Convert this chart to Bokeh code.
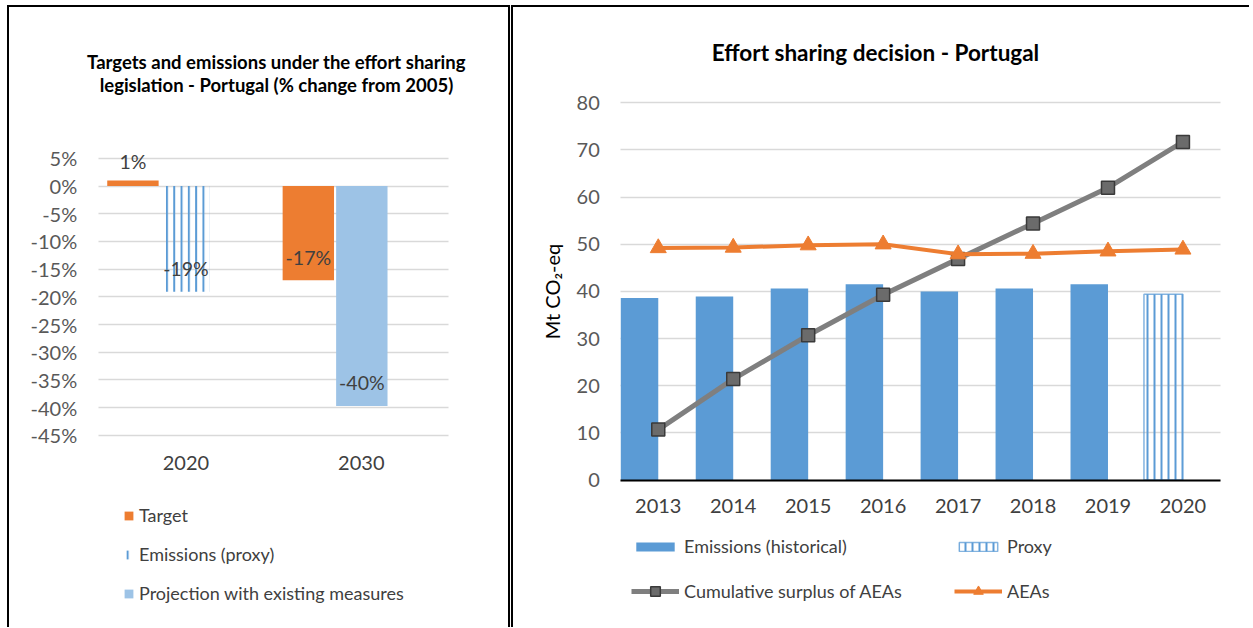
from bokeh.plotting import figure
from bokeh.models import (Range1d, FixedTicker, NumeralTickFormatter, Grid,
                          Legend, LegendItem, Label, ColumnDataSource)
from bokeh.transform import dodge
from bokeh.layouts import row
from bokeh.embed import file_html
from bokeh.resources import INLINE
from bokeh.core.properties import value

FONT = "Lato"
ORANGE = "#ED7D31"
BLUE = "#5B9BD5"
LIGHTBLUE = "#9DC3E6"
GRID = "#D9D9D9"
TICK = "#595959"

# ---------------- Left chart data ----------------
periods = ["2020", "2030"]
target_periods = ["2020", "2030"]
target = [0.01, -0.17]
target_labels = ["1%", "-17%"]
proxy_periods = ["2020"]
proxy = [-0.191]
proxy_labels = ["-19%"]
projection_periods = ["2030"]
projection = [-0.397]
projection_labels = ["-40%"]
pct_ticks = [0.05, 0.0, -0.05, -0.10, -0.15, -0.20, -0.25, -0.30, -0.35, -0.40, -0.45]
left_title = ["Targets and emissions under the effort sharing",
              "legislation - Portugal (% change from 2005)"]

# ---------------- Right chart data ----------------
years = ["2013", "2014", "2015", "2016", "2017", "2018", "2019", "2020"]
hist_years = ["2013", "2014", "2015", "2016", "2017", "2018", "2019"]
emissions_hist = [38.6, 38.9, 40.6, 41.5, 40.0, 40.6, 41.5]
proxy_years = ["2020"]
emissions_proxy = [39.4]
surplus = [10.7, 21.4, 30.7, 39.3, 46.9, 54.4, 62.0, 71.7]
aeas = [49.2, 49.3, 49.8, 50.0, 47.9, 48.0, 48.5, 48.9]
right_ticks = [0, 10, 20, 30, 40, 50, 60, 70, 80]
right_title = "Effort sharing decision - Portugal"

# ---------------- layout geometry (pixels) ----------------
H = 620                      # canvas height of both panels
LW, RW = 499, 736            # canvas widths
HAS_CROSS = "cross_bounds" in Grid.properties()


def cat_index(cats, names):
    return [cats.index(n) for n in names]


def label_offsets(vals):
    return [-19 if v >= 0 else -23 for v in vals]


# left: plot area x 88..436 (2 categories, 174 px each), y: 0% at 178 px from top, 552 px per unit
l_cat_px, l_x0 = 174.0, 88.0
l_px_unit, l_zero = 552.0, 178.0
lx_range = Range1d((0 - l_x0) / l_cat_px - 0.5, (LW - l_x0) / l_cat_px - 0.5)
ly_range = Range1d(-(H - l_zero) / l_px_unit, l_zero / l_px_unit)

# right: plot area x 107..705 (8 categories), y: 0 at 471 px from top, 4.7 px per unit
r_cat_px, r_x0 = 598.0 / len(years), 107.0
r_px_unit, r_zero = 4.7, 471.0
rx_range = Range1d((0 - r_x0) / r_cat_px - 0.5, (RW - r_x0) / r_cat_px - 0.5)
ry_range = Range1d(-(H - r_zero) / r_px_unit, r_zero / r_px_unit)


def hgrid(p, ticks, ncat):
    """Horizontal gridlines limited to the category area."""
    if HAS_CROSS:
        p.ygrid.grid_line_color = GRID
        p.ygrid.grid_line_width = 1.5
        p.ygrid.cross_bounds = (-0.5, ncat - 0.5)
    else:
        p.ygrid.visible = False
        p.segment(x0=-0.5, x1=ncat - 0.5, y0=ticks, y1=ticks,
                  line_color=GRID, line_width=1.5)


# ================= LEFT FIGURE =================
L = figure(width=LW + 4, height=H + 2, x_range=lx_range, y_range=ly_range,
           output_backend="svg", toolbar_location=None, min_border=0,
           styles={"border-top": "2px solid black", "border-left": "2px solid black",
                   "border-right": "2px solid black"})
L.outline_line_color = None
L.xgrid.visible = False
hgrid(L, pct_ticks, len(periods))
L.yaxis.ticker = FixedTicker(ticks=pct_ticks)
L.yaxis.formatter = NumeralTickFormatter(format="0%")
L.yaxis.fixed_location = -0.5
L.xaxis.ticker = FixedTicker(ticks=list(range(len(periods))))
L.xaxis.major_label_overrides = {i: p for i, p in enumerate(periods)}
L.xaxis.fixed_location = min(pct_ticks)
for ax in (L.xaxis, L.yaxis):
    ax.axis_line_color = None
    ax.major_tick_line_color = None
    ax.minor_tick_line_color = None
    ax.major_label_text_font = FONT
    ax.major_label_text_font_size = "20px"
    ax.major_label_text_color = TICK
L.yaxis.major_label_standoff = 15
L.xaxis.major_label_standoff = 15
L.xaxis.major_label_text_color = "#404040"

t_src = ColumnDataSource(dict(x=cat_index(periods, target_periods), value=target,
                              label=target_labels, yoff=label_offsets(target)))
p_src = ColumnDataSource(dict(x=cat_index(periods, proxy_periods), value=proxy,
                              label=proxy_labels, yoff=label_offsets(proxy)))
j_src = ColumnDataSource(dict(x=cat_index(periods, projection_periods), value=projection,
                              label=projection_labels, yoff=label_offsets(projection)))

r_target = L.vbar(x=dodge("x", -0.302), top="value", width=0.293,
                  source=t_src, fill_color=ORANGE, line_color=None)
r_proxy = L.vbar(x=dodge("x", 0.0), top="value", width=0.27,
                 source=p_src, fill_color="white", fill_alpha=0.0, line_color=None,
                 hatch_pattern="vertical_line", hatch_color=BLUE, hatch_scale=7.3,
                 hatch_weight=2)
r_proj = L.vbar(x=dodge("x", 0.003), top="value", width=0.293,
                source=j_src, fill_color=LIGHTBLUE, line_color=None)

for src, off in ((t_src, -0.302), (p_src, 0.0), (j_src, 0.003)):
    L.text(x=dodge("x", off), y="value", text="label", source=src,
           text_font=value(FONT), text_font_size="19.5px", text_color="#404040",
           text_align="center", text_baseline="middle", y_offset="yoff")

for i, line in enumerate(left_title):
    L.add_layout(Label(x=267, y=568 - 23 * i, x_units="screen", y_units="screen", text=line,
                       text_align="center", text_baseline="middle", text_font=FONT,
                       text_font_size="18.5px", text_font_style="bold", text_color="#000000"))

legL = Legend(items=[LegendItem(label="Target", renderers=[r_target]),
                     LegendItem(label="Emissions (proxy)", renderers=[r_proxy]),
                     LegendItem(label="Projection with existing measures", renderers=[r_proj])],
              location=(114, 25), orientation="vertical", glyph_width=11, glyph_height=11,
              label_height=20, spacing=17, padding=0, margin=0, label_standoff=5,
              label_text_font=FONT, label_text_font_size="18px", label_text_color="#404040",
              border_line_alpha=0, background_fill_alpha=0)
L.add_layout(legL, "center")

# ================= RIGHT FIGURE =================
R = figure(width=RW + 2, height=H + 2, x_range=rx_range, y_range=ry_range,
           output_backend="svg", toolbar_location=None, min_border=0,
           styles={"border-top": "2px solid black", "border-left": "2px solid black"})
R.outline_line_color = None
R.xgrid.visible = False
hgrid(R, right_ticks, len(years))
R.yaxis.ticker = FixedTicker(ticks=right_ticks)
R.yaxis.fixed_location = -0.5
R.yaxis.bounds = (min(right_ticks), max(right_ticks))
R.xaxis.ticker = FixedTicker(ticks=list(range(len(years))))
R.xaxis.major_label_overrides = {i: y for i, y in enumerate(years)}
R.xaxis.fixed_location = 0
R.xaxis.bounds = (-0.5, len(years) - 0.5)
for ax in (R.xaxis, R.yaxis):
    ax.major_tick_line_color = None
    ax.minor_tick_line_color = None
    ax.major_label_text_font = FONT
    ax.major_label_text_font_size = "20px"
    ax.major_label_text_color = TICK
R.yaxis.axis_line_color = None
R.xaxis.axis_line_color = "#000000"
R.xaxis.axis_line_width = 2
R.yaxis.major_label_standoff = 15
R.xaxis.major_label_standoff = 13
R.xaxis.major_label_text_color = "#404040"
R.yaxis.axis_label = "Mt CO\u2082-eq"
R.yaxis.axis_label_text_font = FONT
R.yaxis.axis_label_text_font_style = "normal"
R.yaxis.axis_label_text_font_size = "20px"
R.yaxis.axis_label_text_color = "#000000"
R.yaxis.axis_label_standoff = 9

h_src = ColumnDataSource(dict(x=cat_index(years, hist_years), value=emissions_hist))
pr_src = ColumnDataSource(dict(x=cat_index(years, proxy_years), value=emissions_proxy))
l_src = ColumnDataSource(dict(x=cat_index(years, years), surplus=surplus, aeas=aeas))

r_hist = R.vbar(x=dodge("x", -0.25), top="value", width=0.5,
                source=h_src, fill_color=BLUE, line_color=None)
r_prox = R.vbar(x=dodge("x", -0.26), top="value", width=0.52,
                source=pr_src, fill_color="white", fill_alpha=0.0, line_color=BLUE,
                line_alpha=0.75, line_width=1.5,
                hatch_pattern="vertical_line", hatch_color=BLUE, hatch_scale=7,
                hatch_weight=2)
r_sl = R.line(x="x", y="surplus", source=l_src, line_color="#7F7F7F", line_width=5)
r_ss = R.scatter(x="x", y="surplus", source=l_src, marker="square", size=13,
                 fill_color="#6B6B6B", line_color="#3A3A3A", line_width=1.5)
r_al = R.line(x="x", y="aeas", source=l_src, line_color=ORANGE, line_width=4)
r_as = R.scatter(x="x", y="aeas", source=l_src, marker="triangle", size=16,
                 fill_color=ORANGE, line_color=ORANGE)

R.add_layout(Label(x=362, y=577, x_units="screen", y_units="screen", text=right_title,
                   text_align="center", text_baseline="middle", text_font=FONT,
                   text_font_size="22.5px", text_font_style="bold", text_color="#000000"))

common = dict(orientation="horizontal", glyph_width=48, label_width=270, label_height=20,
              spacing=0, padding=0, margin=0, label_standoff=5, label_text_font=FONT,
              label_text_font_size="18px", label_text_color="#404040",
              border_line_alpha=0, background_fill_alpha=0)
leg1 = Legend(items=[LegendItem(label="Emissions (historical)", renderers=[r_hist]),
                     LegendItem(label="Proxy", renderers=[r_prox])],
              location=(118, 72), glyph_height=11, **common)
leg2 = Legend(items=[LegendItem(label="Cumulative surplus of AEAs", renderers=[r_sl, r_ss]),
                     LegendItem(label="AEAs", renderers=[r_al, r_as])],
              location=(118, 26), glyph_height=24, **common)
R.add_layout(leg1, "center")
R.add_layout(leg2, "center")

layout = row(L, R, spacing=1, styles={"padding-left": "7px", "padding-top": "5px"})
open("out.html", "w").write(file_html(layout, INLINE))
